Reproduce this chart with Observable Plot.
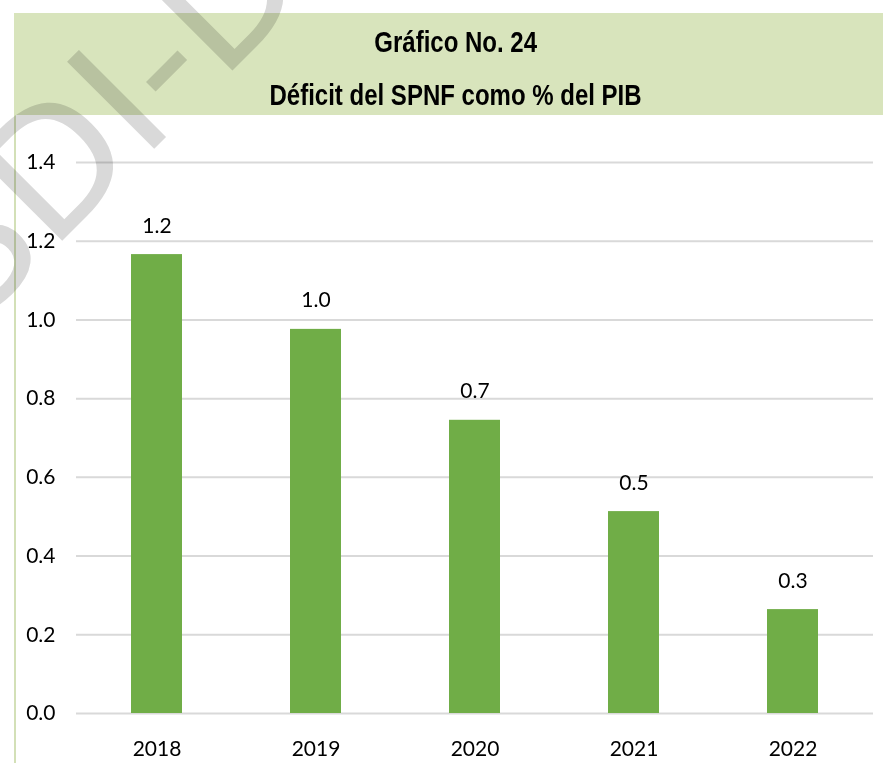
<!DOCTYPE html>
<html>
<head>
<meta charset="utf-8">
<script src="https://cdn.jsdelivr.net/npm/d3@7"></script>
<script src="https://cdn.jsdelivr.net/npm/@observablehq/plot@0.6"></script>
<style>
  html, body { margin: 0; padding: 0; background: #fff; }
  #page { position: relative; width: 883px; height: 763px; overflow: hidden; background: #fff; }
  #titlebox { position: absolute; left: 14px; top: 13px; width: 869px; height: 102px; background: #d8e4bc; }
  .title { position: absolute; left: 14px; width: 884px; text-align: center;
    font-family: "Liberation Sans", Arial, sans-serif;
    font-weight: bold; font-size: 30px; color: #000; line-height: 1; }
  .title span { display: inline-block; transform: scaleX(0.8); transform-origin: 50% 50%; white-space: nowrap; }
  #vline { position: absolute; left: 14px; top: 115px; width: 2px; height: 648px; background: #d3e0b7; }
  #chart { position: absolute; left: 0; top: 115px; }
  #wm { position: absolute; left: 0; top: 0; pointer-events: none; mix-blend-mode: multiply; }
</style>
</head>
<body>
<div id="page">
  <div id="titlebox"></div>
  <div class="title" style="top:27px"><span>Gráfico No. 24</span></div>
  <div class="title" style="top:80px"><span>Déficit del SPNF como % del PIB</span></div>
  <div id="vline"></div>
  <div id="chart"></div>
  <svg id="wm" width="883" height="763">
    <text transform="translate(-25.4,328.4) rotate(-45)" font-family="DejaVu Sans" font-size="169" fill="#d9d9d9">SDI-D</text>
  </svg>
</div>
<script>
const years = ["2018", "2019", "2020", "2021", "2022"];
const deficit = [1.166, 0.976, 0.745, 0.513, 0.264];
const valueLabels = ["1.2", "1.0", "0.7", "0.5", "0.3"];
const yTicks = [0, 0.2, 0.4, 0.6, 0.8, 1.0, 1.2, 1.4];

const data = years.map((year, i) => ({year, value: deficit[i], label: valueLabels[i]}));

const chart = Plot.plot({
  width: 883,
  height: 648,
  marginLeft: 76,
  marginRight: 10,
  marginTop: 47,
  marginBottom: 50,
  style: {fontFamily: "Lato, 'Open Sans', sans-serif", fontSize: "21px", color: "#000", background: "transparent", overflow: "visible"},
  x: {domain: years, paddingInner: 0.68, paddingOuter: 0.34, label: null},
  y: {domain: [0, 1.4], label: null},
  marks: [
    Plot.ruleY(yTicks, {stroke: "#d9d9d9", strokeWidth: 2}),
    Plot.barY(data, {x: "year", y: "value", fill: "#70ad47"}),
    Plot.text(data, {x: "year", y: "value", text: "label", lineAnchor: "bottom", dy: -22, fontSize: 21, fill: "#000"}),
    Plot.axisY({ticks: yTicks, tickFormat: d => d.toFixed(1), tickSize: 0, tickPadding: 21, fontSize: 21, label: null}),
    Plot.axisX({tickSize: 0, tickPadding: 28, fontSize: 21, label: null})
  ]
});
document.getElementById("chart").appendChild(chart);
</script>
</body>
</html>
